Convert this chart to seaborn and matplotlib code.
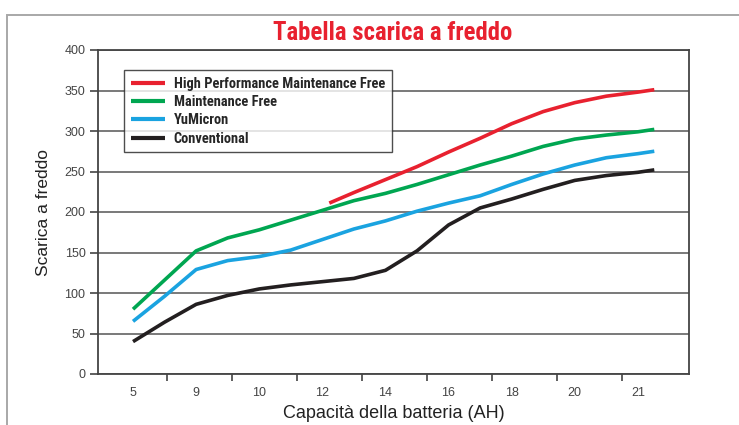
import matplotlib
matplotlib.use("Agg")
import matplotlib.pyplot as plt
from matplotlib import font_manager
from matplotlib.patches import Rectangle
import numpy as np
import pandas as pd
import seaborn as sns

# categorie asse x (capacità AH) e tacche asse y
capacity_labels = ['5', '9', '10', '12', '14', '16', '18', '20', '21']
y_ticks = [0, 50, 100, 150, 200, 250, 300, 350, 400]

# posizioni, in unità di categoria (0 = "5", 8 = "21")
x_common = [0, 0.5, 1, 1.5, 2, 2.5, 3, 3.5, 4, 4.5, 5, 5.5, 6, 6.5, 7, 7.5, 8, 8.26]
x_hpmf = [3.11, 3.5, 4, 4.5, 5, 5.5, 6, 6.5, 7, 7.5, 8, 8.26]

hpmf = [211, 224, 240, 256, 274, 291, 309, 324, 335, 343, 348, 351]
mf = [80, 116, 152, 168, 178, 190, 202, 214, 223, 234, 246, 258, 269, 281, 290, 295, 299, 302]
yumicron = [65, 96, 129, 140, 145, 153, 166, 179, 189, 201, 211, 220, 234, 247, 258, 267, 272, 275]
conventional = [40, 64, 86, 97, 105, 110, 114, 118, 128, 152, 184, 205, 216, 228, 239, 245, 249, 252]

series_names = ['High Performance Maintenance Free', 'Maintenance Free', 'YuMicron', 'Conventional']
colori = ['#e8212f', '#00a651', '#1aa3e0', '#231f20']

df = pd.concat([
    pd.DataFrame({'x': x_hpmf, 'y': hpmf, 'serie': series_names[0]}),
    pd.DataFrame({'x': x_common, 'y': mf, 'serie': series_names[1]}),
    pd.DataFrame({'x': x_common, 'y': yumicron, 'serie': series_names[2]}),
    pd.DataFrame({'x': x_common, 'y': conventional, 'serie': series_names[3]}),
], ignore_index=True)


def peso(w):
    if isinstance(w, str):
        return {'bold': 700, 'semibold': 600, 'demibold': 600, 'heavy': 800, 'black': 900}.get(w, 400)
    return w


# cerca un font stretto che abbia anche il grassetto
stretti_bold = sorted({f.name for f in font_manager.fontManager.ttflist
                       if ('Narrow' in f.name or 'Condensed' in f.name
                           or f.stretch in ('condensed', 'semi-condensed'))
                       and peso(f.weight) >= 600})
preferiti = ['Liberation Sans Narrow', 'Roboto Condensed', 'DejaVu Sans Condensed', 'Open Sans Condensed']
font_stretto = next((n for n in preferiti if n in stretti_bold), stretti_bold[0] if stretti_bold else None)

sns.set_style("white")
plt.rcParams['font.family'] = ['Liberation Sans', 'DejaVu Sans']

fig = plt.figure(figsize=(7.39, 4.25), dpi=100)
ax = fig.add_axes([98 / 739, 1 - 374 / 425, 591 / 739, 324 / 425])

for y in y_ticks:
    ax.axhline(y, color='#6e6e6e', lw=1.3, zorder=0)

sns.lineplot(data=df, x='x', y='y', hue='serie', hue_order=series_names,
             palette=colori, sort=False, estimator=None, lw=2.6, ax=ax,
             solid_capstyle='butt')

ax.set_xlim(-0.555, 8.81)
ax.set_ylim(0, 400)
ax.set_yticks(y_ticks)
ax.set_xticks(range(len(capacity_labels)))
ax.set_xticklabels(capacity_labels)
ax.set_xticks(np.linspace(0.54, 7.75, 8), minor=True)
ax.tick_params(axis='x', which='major', length=0, pad=9, labelsize=9, labelcolor='#444444')
ax.tick_params(axis='x', which='minor', length=5, width=1.2, color='#444444', bottom=True)
ax.tick_params(axis='y', length=6, width=1.2, color='#444444', left=True, labelsize=9,
               labelcolor='#444444', pad=3)

for s in ax.spines.values():
    s.set_color('#444444')
    s.set_linewidth(1.3)

ax.set_xlabel('Capacità della batteria (AH)', fontsize=13, color='#222222', labelpad=5)
ax.set_ylabel('Scarica a freddo', fontsize=12.5, color='#222222', labelpad=10)

if font_stretto:
    font_tit = {'family': [font_stretto, 'DejaVu Sans'], 'size': 17.8, 'weight': 'bold'}
    font_leg = {'family': [font_stretto, 'DejaVu Sans'], 'weight': 'bold', 'size': 10.4}
else:
    font_tit = {'family': ['Liberation Sans', 'DejaVu Sans'], 'size': 14.5, 'weight': 'bold'}
    font_leg = {'family': ['Liberation Sans', 'DejaVu Sans'], 'weight': 'bold', 'size': 8.8}

fig.text(393 / 739, 1 - 33 / 425, 'Tabella scarica a freddo', ha='center', va='center',
         color='#e8212f', fontdict=font_tit)

leg = ax.legend(loc='upper left', bbox_to_anchor=(0.044, 0.938), frameon=True,
                fancybox=False, handlelength=2.4, handletextpad=0.6,
                labelspacing=0.3, borderpad=0.45, borderaxespad=0, prop=font_leg)
leg.get_frame().set_edgecolor('#222222')
leg.get_frame().set_linewidth(1.0)
for line in leg.get_lines():
    line.set_linewidth(3.0)

# cornice grigia esterna
fig.patches.append(Rectangle((7 / 739, -0.02), 1.0, 1.02 - 15 / 425, transform=fig.transFigure,
                             fill=False, edgecolor='#a8a8a8', lw=1.4))

fig.savefig('out.png', dpi=100)
